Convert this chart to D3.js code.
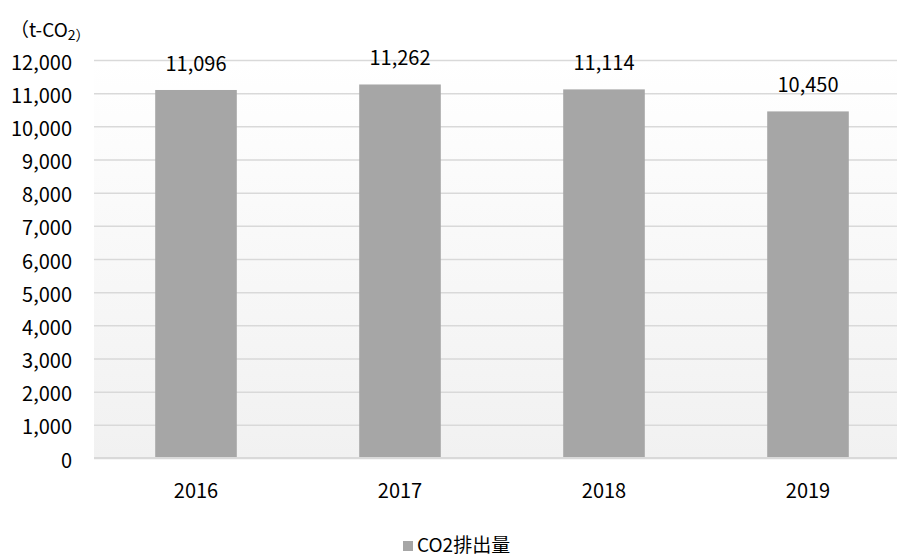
<!DOCTYPE html>
<html>
<head>
<meta charset="utf-8">
<script src="https://cdn.jsdelivr.net/npm/d3@7"></script>
<style>
  body { margin: 0; background: #fff; }
  text { font-family: "Noto Sans CJK JP", "Noto Sans", sans-serif; fill: #000; }
</style>
</head>
<body>
<div id="chart"></div>
<script>
// chart values
var years = ["2016", "2017", "2018", "2019"];
var emissions = [11096, 11262, 11114, 10450];
var yTicks = [0, 1000, 2000, 3000, 4000, 5000, 6000, 7000, 8000, 9000, 10000, 11000, 12000];
var seriesName = "CO2排出量";

var width = 897, height = 560;
var fontSize = 20;

var svg = d3.select("#chart").append("svg").attr("width", width).attr("height", height);

// plot area scales
var x = d3.scaleBand().domain(years).range([94, 910]).paddingInner(0.6).paddingOuter(0.3);
var y = d3.scaleLinear().domain([0, 12000]).range([458, 60]);

// soft vertical gradient behind the bars
var grad = svg.append("defs").append("linearGradient")
    .attr("id", "bg").attr("x1", 0).attr("y1", 0).attr("x2", 0).attr("y2", 1);
grad.append("stop").attr("offset", "0%").attr("stop-color", "#ffffff");
grad.append("stop").attr("offset", "100%").attr("stop-color", "#f1f1f1");

svg.append("rect")
    .attr("x", 94).attr("y", y(12000))
    .attr("width", 910 - 94).attr("height", y(0) - y(12000))
    .attr("fill", "url(#bg)");

// gridlines via the axis, no domain line
var grid = svg.append("g").attr("transform", "translate(94,0)")
    .call(d3.axisRight(y).tickValues(yTicks).tickSize(910 - 94).tickFormat(""));
grid.select(".domain").remove();
grid.selectAll("line").attr("stroke", "#d9d9d9").attr("stroke-width", 1.5);

// y tick labels
var yAxis = svg.append("g").attr("transform", "translate(72,0)")
    .call(d3.axisLeft(y).tickValues(yTicks).tickSize(0).tickPadding(0).tickFormat(d3.format(",")));
yAxis.select(".domain").remove();
yAxis.selectAll("text")
    .attr("dy", null).attr("y", 9)
    .style("font-size", fontSize + "px")
    .style("font-family", "\"Noto Sans CJK JP\", sans-serif")
    .attr("fill", "#000");

// bars
svg.selectAll("rect.bar")
    .data(emissions).enter().append("rect")
    .attr("class", "bar")
    .attr("x", function(d, i) { return x(years[i]); })
    .attr("y", function(d) { return y(d); })
    .attr("width", x.bandwidth())
    .attr("height", function(d) { return y(0) - y(d); })
    .attr("fill", "#a6a6a6");

// baseline over the bars
svg.append("line")
    .attr("x1", 94).attr("x2", 910)
    .attr("y1", y(0)).attr("y2", y(0))
    .attr("stroke", "#d9d9d9").attr("stroke-width", 2);

// value labels
svg.selectAll("text.val")
    .data(emissions).enter().append("text")
    .attr("class", "val")
    .attr("x", function(d, i) { return x(years[i]) + x.bandwidth() / 2; })
    .attr("y", function(d) { return y(d) - 19; })
    .attr("text-anchor", "middle")
    .style("font-size", fontSize + "px")
    .text(function(d) { return d3.format(",")(d); });

// x axis labels
var xAxis = svg.append("g").attr("transform", "translate(0,458)")
    .call(d3.axisBottom(x).tickSize(0).tickPadding(0));
xAxis.select(".domain").remove();
xAxis.selectAll("text")
    .attr("dy", null).attr("y", 40)
    .style("font-size", fontSize + "px")
    .style("font-family", "\"Noto Sans CJK JP\", sans-serif")
    .attr("fill", "#000");

// unit label
var unit = svg.append("text").attr("x", 10).attr("y", 37).style("font-size", "19px");
unit.append("tspan").text("（t-CO");
unit.append("tspan").attr("dy", 3).style("font-size", "14px").text("2）");

// legend
var legend = svg.append("g");
legend.append("rect").attr("x", 403).attr("y", 541).attr("width", 10).attr("height", 10).attr("fill", "#a6a6a6");
legend.append("text").attr("x", 417).attr("y", 552).style("font-size", "19px").text(seriesName);
</script>
</body>
</html>
